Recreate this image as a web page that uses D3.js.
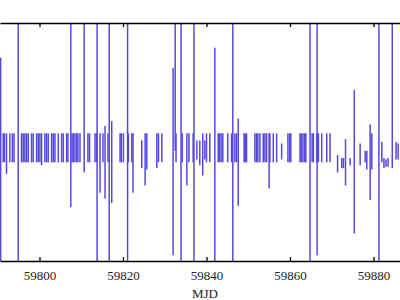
<!DOCTYPE html>
<html lang="en">
<head>
    <meta charset="UTF-8">
    <title>MJD light curve</title>
    <script src="https://d3js.org/d3.v7.min.js"></script>
    <style>
        body { margin: 0; background: #fff; }
        #chart { display: block; }
        .axis path, .axis line { stroke: #000; stroke-width: 1.3px; }
        .axis text { font-family: "Liberation Serif", "DejaVu Serif", serif; font-size: 13px; fill: #222; }
        .seg { stroke: #5548dd; stroke-width: 1.5px; }
        .xlabel { font-family: "Liberation Serif", "DejaVu Serif", serif; font-size: 13px; fill: #222; }
    </style>
</head>
<body>
<svg id="chart" width="400" height="300"></svg>
<script>
    // x ticks and visible MJD window
    const tickValues = [59800, 59820, 59840, 59860, 59880];
    const mjdRange = [59790.54, 59886.35];
    const valueRange = [-7.8, 8.6];

    // segments: MJD, upper end, lower end (relative flux)
    const mjd = [
        // long lines
        59790.7, 59794.9, 59813.8, 59816.7, 59821.1, 59833.9, 59837.0, 59846.3, 59864.8, 59881.3,
        59807.5, 59810.7, 59832.5, 59832.0, 59842.0, 59866.5, 59884.5, 59875.4, 59847.6, 59879.2,
        59817.3, 59815.7, 59814.5, 59822.4, 59825.3, 59835.3, 59839.1, 59855.0, 59873.3, 59792.1,
        59800.5, 59824.5, 59828.1, 59871.4,
        // band
        59791.3, 59791.6, 59792.9, 59793.5, 59793.9, 59795.7, 59796.1, 59796.5, 59796.9, 59797.3,
        59798.1, 59798.5, 59799.3, 59799.7, 59800.1, 59801.3, 59801.7, 59802.1, 59802.9, 59803.3,
        59803.7, 59804.5, 59805.3, 59805.7, 59806.5, 59806.8, 59807.8, 59808.1, 59808.5, 59808.9,
        59809.2, 59809.7, 59811.6, 59812.0, 59813.3, 59813.7, 59815.2, 59816.4, 59819.3, 59819.6,
        59820.1, 59821.3, 59822.1, 59825.7, 59828.5, 59829.3, 59832.7, 59834.2, 59835.8, 59836.8,
        59837.7, 59838.4, 59839.6, 59840.0, 59840.8, 59842.8, 59843.1, 59843.5, 59843.9, 59845.1,
        59846.0, 59846.8, 59847.2, 59849.0, 59849.3, 59849.6, 59851.6, 59852.0, 59852.3, 59852.8,
        59853.6, 59854.0, 59854.4, 59855.2, 59856.0, 59856.8, 59858.0, 59859.5, 59859.9, 59860.2,
        59862.4, 59862.7, 59863.1, 59863.5, 59863.8, 59865.3, 59865.6, 59866.4, 59866.8, 59867.6,
        59868.8, 59869.6, 59872.4, 59872.8, 59874.4, 59876.8, 59878.0, 59878.4, 59879.6, 59882.0,
        59882.5, 59883.0, 59883.5, 59885.4, 59885.9
    ];
    const upper = [
        6.2, 9, 9, 9, 9, 9, 9, 9, 9, 9,
        9, 9, 9, 5.5, 6.9, 9, 9, 4.0, 2.0, 1.6,
        1.85, 1.5, 1.0, 1.0, 1.0, 1.0, 1.0, 1.0, 0.6, 1.0,
        1.0, 0.5, 1.0, -0.5,
        1, 1, 1, 1, 1, 1, 1, 1, 1, 1,
        1, 1, 1, 1, 1, 1, 1, 1, 1, 1,
        1, 1, 1, 1, 1, 1, 1, 1, 1, 1,
        1, 1, 1, 1, 1, 1, 1, 1, 1, 1,
        1, 1, 1, 1, 1, 1, 1, 1, 1, 1,
        0.5, 0.5, 0.5, 1, 1, 1, 1, 1, 1, 1,
        1, 1, 1, 1, 1, 1, 1, 1, 1, 1,
        1, 1, 1, 1, 1, 1, 0.3, 1, 1, 1,
        1, 1, 1, 1, 1, 1, 1, 1, 1, 1,
        1, 1, -0.7, -0.7, -0.7, 0.3, -0.2, -0.2, 1.0, 0.4,
        -0.7, -0.8, -0.7, 0.4, 0.3
    ];
    const lower = [
        -8.5, -8.5, -8.5, -8.5, -8.5, -8.5, -8.5, -8.5, -8.5, -8.5,
        -4.1, -1.7, -0.2, -7.4, -8.5, -7.4, -1.4, -5.9, -4.0, -3.6,
        -3.8, -3.5, -3.1, -3.1, -2.6, -2.6, -1.9, -2.8, -2.6, -1.8,
        -1.2, -1.4, -1.4, -1.7,
        -1, -1, -1, -1, -1, -1, -1, -1, -1, -1,
        -1, -1, -1, -1, -1, -1, -1, -1, -1, -1,
        -1, -1, -1, -1, -1, -1, -1, -1, -1, -1,
        -1, -1, -1, -1, -1, -1, -1, -1, -1, -1,
        -1, -1, -1, -1.5, -1, -1, -1, -1, -1, -1,
        -0.8, -1.2, -0.8, -1, -1, -1, -1, -1, -1, -1,
        -1, -1, -1, -1, -1, -1, -1, -1, -1, -1,
        -1, -1, -1, -1, -1, -1, -0.8, -1, -1, -1,
        -1, -1, -1, -1, -1, -1, -1, -1, -1, -1,
        -1, -1, -1.4, -1.4, -1.2, -1.2, -1.0, -1.5, -1.5, -1.0,
        -1.4, -1.3, -1.3, -0.8, -0.8
    ];

    const svg = d3.select('#chart');
    const plotTop = 23, plotBottom = 261;

    const x = d3.scaleLinear().domain(mjdRange).range([0, 400]);
    const y = d3.scaleLinear().domain(valueRange).range([plotBottom, plotTop]);

    svg.append('clipPath').attr('id', 'plotClip')
        .append('rect')
        .attr('x', 0).attr('y', plotTop)
        .attr('width', 400).attr('height', plotBottom - plotTop);

    const data = mjd.map((m, i) => ({ mjd: m, hi: upper[i], lo: lower[i] }));

    svg.append('g')
        .attr('clip-path', 'url(#plotClip)')
        .selectAll('line')
        .data(data)
        .enter().append('line')
        .attr('class', 'seg')
        .attr('x1', d => x(d.mjd))
        .attr('x2', d => x(d.mjd))
        .attr('y1', d => y(d.hi))
        .attr('y2', d => y(d.lo));

    // axes (ticks point inward)
    svg.append('g')
        .attr('class', 'axis')
        .attr('transform', `translate(0,${plotBottom})`)
        .call(d3.axisBottom(x).tickValues(tickValues).tickFormat(d3.format('d'))
            .tickSizeInner(-4).tickSizeOuter(0).tickPadding(10));

    svg.append('g')
        .attr('class', 'axis')
        .attr('transform', `translate(0,${plotTop})`)
        .call(d3.axisTop(x).tickValues(tickValues).tickFormat('')
            .tickSizeInner(-4).tickSizeOuter(0));

    svg.append('text')
        .attr('class', 'xlabel')
        .attr('x', 205)
        .attr('y', 298)
        .attr('text-anchor', 'middle')
        .text('MJD');
</script>
</body>
</html>
